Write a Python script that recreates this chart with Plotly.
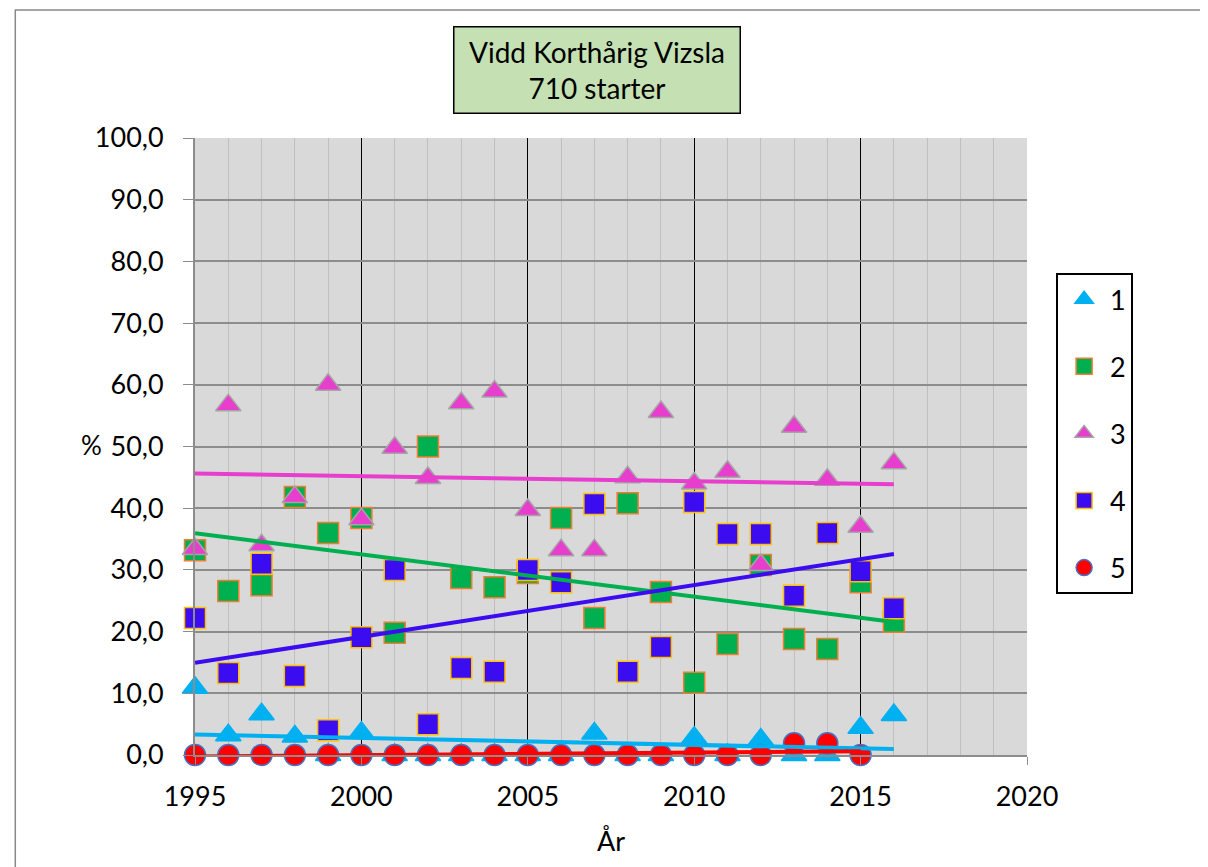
import numpy as np
import plotly.graph_objects as go

# Vidd Korthårig Vizsla, share (%) per prize level and year
years = list(range(1995, 2017))
years_5 = list(range(1995, 2016))

pct_1 = [10.9, 3.2, 6.6, 3.0, 0.0, 3.6, 0.0, 0.0, 0.0, 0.0, 0.0,
         0.0, 3.5, 0.0, 0.0, 2.8, 0.0, 2.5, 0.0, 0.0, 4.4, 6.5]
pct_2 = [33.2, 26.6, 27.5, 41.8, 36.0, 38.4, 19.8, 50.0, 28.7, 27.2, 29.5,
         38.4, 22.2, 40.8, 26.4, 11.7, 18.0, 30.8, 18.8, 17.2, 28.0, 21.6]
pct_3 = [33.4, 56.7, 34.0, 41.8, 60.0, 38.2, 49.8, 44.9, 57.0, 58.9, 39.7,
         33.2, 33.2, 45.0, 55.6, 44.0, 45.9, 30.8, 53.2, 44.6, 37.0, 47.3]
pct_4 = [22.2, 13.3, 31.0, 12.8, 4.0, 19.1, 30.0, 5.0, 14.1, 13.5, 30.0,
         28.0, 40.7, 13.5, 17.5, 41.0, 35.8, 35.8, 25.8, 36.0, 29.8, 23.8]
pct_5 = [0.0, 0.0, 0.0, 0.0, 0.0, 0.0, 0.0, 0.0, 0.0, 0.0, 0.0,
         0.0, 0.0, 0.0, 0.0, 0.0, 0.0, 0.0, 1.9, 1.9, 0.0]

series = [
    dict(name="1", x=years, y=pct_1, symbol="triangle-up", size=22,
         fill="#00b0f0", edge="#00b0f0", line="#00b0f0"),
    dict(name="2", x=years, y=pct_2, symbol="square", size=21,
         fill="#00b050", edge="#ed7d31", line="#00b050"),
    dict(name="3", x=years, y=pct_3, symbol="triangle-up", size=22,
         fill="#e83ece", edge="#a5a5a5", line="#e83ece"),
    dict(name="4", x=years, y=pct_4, symbol="square", size=21,
         fill="#3c0cf0", edge="#ffc000", line="#3c0cf0"),
    dict(name="5", x=years_5, y=pct_5, symbol="circle", size=21,
         fill="#ff0000", edge="#4472c4", line="#ff0000"),
]

FONT = "Lato"

fig = go.Figure()

# markers first
for s in series:
    fig.add_trace(go.Scatter(
        x=s["x"], y=s["y"], name=s["name"], mode="markers",
        legendgroup=s["name"], cliponaxis=False,
        marker=dict(symbol=s["symbol"], size=s["size"], color=s["fill"],
                    line=dict(color=s["edge"], width=1.5)),
    ))

# linear trend lines on top, like the Excel trendlines
for s in series:
    xs = np.array(s["x"], dtype=float)
    k, m = np.polyfit(xs, np.array(s["y"], dtype=float), 1)
    ends = np.array([xs[0], xs[-1]])
    fig.add_trace(go.Scatter(
        x=ends, y=k * ends + m, mode="lines", showlegend=False,
        cliponaxis=False, hoverinfo="skip",
        line=dict(color=s["line"], width=4),
    ))

fig.update_layout(
    width=1208, height=867,
    margin=dict(l=187, r=189, t=130, b=120),
    paper_bgcolor="white",
    plot_bgcolor="#d9d9d9",
    separators=", ",
    font=dict(family=FONT, size=24, color="black"),
    showlegend=True,
    legend=dict(
        x=1.035, y=0.781, xanchor="left", yanchor="top",
        bgcolor="white", bordercolor="black", borderwidth=2,
        font=dict(family=FONT, size=27),
        tracegroupgap=29, itemsizing="trace", itemwidth=42,
    ),
)

fig.update_xaxes(
    range=[1995, 2020], dtick=5, tick0=1995,
    showgrid=True, gridcolor="black", gridwidth=1.2,
    minor=dict(dtick=1, showgrid=True, gridcolor="#bfbfbf", gridwidth=1),
    showline=True, linecolor="#8c8c8c", linewidth=2,
    ticks="outside", ticklen=8, tickcolor="#8c8c8c",
    zeroline=False,
    tickfont=dict(family=FONT, size=27),
    ticklabelstandoff=9,
    title=dict(text="År", font=dict(family=FONT, size=27), standoff=21),
)

fig.update_yaxes(
    range=[0, 100], dtick=10, tickformat=".1f",
    showgrid=True, gridcolor="#8c8c8c", gridwidth=1.5,
    showline=True, linecolor="#8c8c8c", linewidth=2,
    ticks="outside", ticklen=10, tickcolor="#8c8c8c",
    zeroline=False,
    tickfont=dict(family=FONT, size=27),
    ticklabelstandoff=14,
)

# title box
fig.add_annotation(
    text="Vidd Korthårig Vizsla<br>710 starter",
    xref="paper", yref="paper", x=0.4826, y=1.111,
    xanchor="center", yanchor="middle", showarrow=False,
    width=281, height=81, borderpad=2,
    bgcolor="#c5e0b3", bordercolor="black", borderwidth=1.5,
    font=dict(family=FONT, size=28, color="black"),
)

# "%" beside the y axis
fig.add_annotation(
    text="%", xref="paper", yref="paper", x=-0.124, y=0.502,
    xanchor="center", yanchor="middle", showarrow=False,
    font=dict(family=FONT, size=26, color="black"),
)

# chart frame
fig.add_shape(
    type="rect", xref="paper", yref="paper",
    x0=-0.216, x1=1.25, y0=-0.22, y1=1.2075,
    line=dict(color="#898989", width=1.5), layer="below",
)

fig.write_html("out.html")
